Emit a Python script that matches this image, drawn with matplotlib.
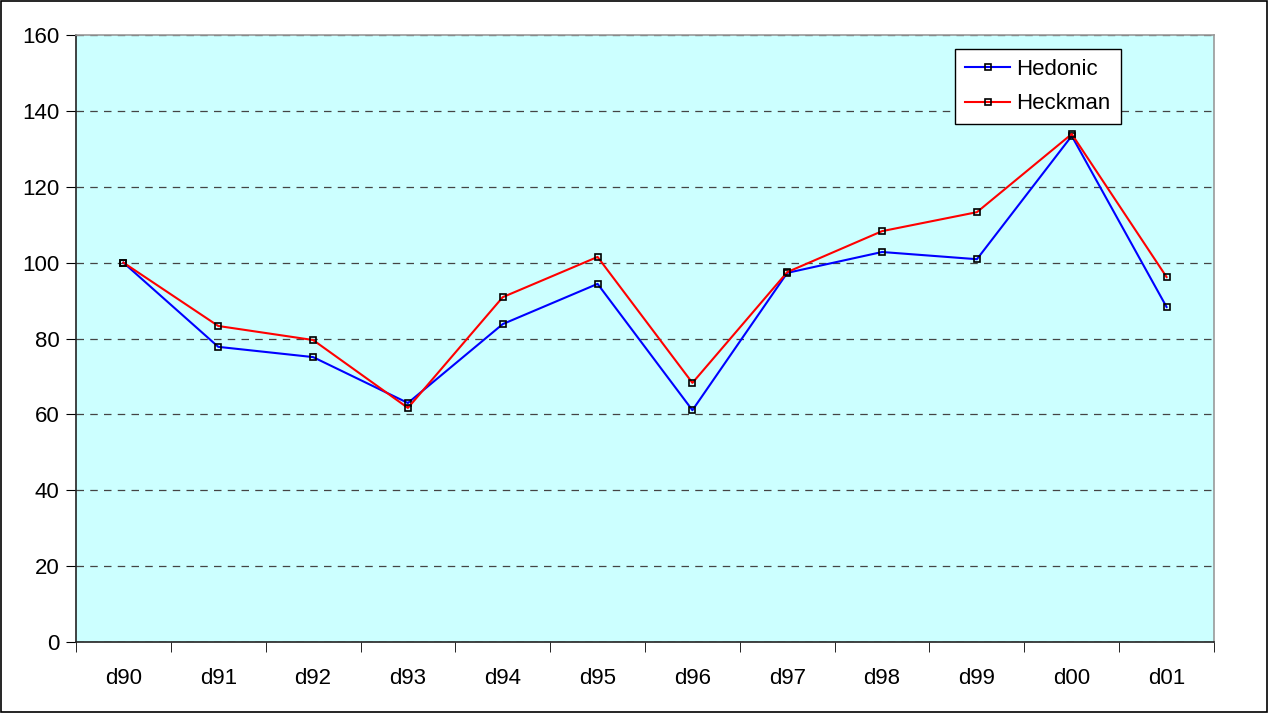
import matplotlib
matplotlib.use("Agg")
import matplotlib.pyplot as plt
from matplotlib.patches import Rectangle

categories = ["d90", "d91", "d92", "d93", "d94", "d95", "d96", "d97", "d98", "d99", "d00", "d01"]
hedonic = [100, 77.8, 75.1, 63.0, 83.8, 94.4, 61.1, 97.3, 102.8, 100.9, 133.4, 88.3]
heckman = [100, 83.3, 79.6, 61.7, 90.9, 101.5, 68.3, 97.5, 108.3, 113.3, 133.9, 96.2]
yticks = [0, 20, 40, 60, 80, 100, 120, 140, 160]

plt.rcParams['font.family'] = ['Liberation Sans', 'DejaVu Sans']

fig = plt.figure(figsize=(12.68, 7.13), dpi=100)
ax = fig.add_axes([76 / 1268, 71 / 713, 1138 / 1268, 607 / 713])
ax.set_facecolor("#CCFFFF")

x = list(range(len(categories)))
ax.plot(x, hedonic, color="#0000FF", lw=1.5, marker="s", ms=5, mfc="none",
        mec="black", mew=1.2, label="Hedonic", zorder=3)
ax.plot(x, heckman, color="#FF0000", lw=1.5, marker="s", ms=5, mfc="none",
        mec="black", mew=1.2, label="Heckman", zorder=3)

ax.set_xlim(-0.5, len(categories) - 0.5)
ax.set_ylim(0, 160)
ax.set_yticks(yticks)
ax.tick_params(axis="y", direction="out", length=7, labelsize=16, pad=5)
ax.set_xticks(x)
ax.set_xticklabels(categories)
ax.set_xticks([i - 0.5 for i in range(len(categories) + 1)], minor=True)
ax.tick_params(axis="x", which="major", length=0, labelsize=16, pad=19)
ax.tick_params(axis="x", which="minor", direction="out", length=7)

ax.grid(axis="y", linestyle=(0, (6, 5)), color="#444444", lw=0.9)
ax.set_axisbelow(True)

for side in ["left", "bottom"]:
    ax.spines[side].set_color("#222222")
    ax.spines[side].set_linewidth(1.2)
for side in ["top", "right"]:
    ax.spines[side].set_color("#999999")
    ax.spines[side].set_linewidth(1.2)

leg = ax.legend(loc="upper right", bbox_to_anchor=(0.918, 0.977), fontsize=16,
                frameon=True, fancybox=False, edgecolor="black",
                framealpha=1, handlelength=2.0, handletextpad=0.3,
                borderpad=0.45, labelspacing=0.6, borderaxespad=0)
leg.get_frame().set_linewidth(1.0)

fig.patches.append(Rectangle((0.001, 0.001), 0.998, 0.998, transform=fig.transFigure,
                             fill=False, edgecolor="black", lw=1.2))

fig.savefig("out.png", dpi=100, facecolor="white")
